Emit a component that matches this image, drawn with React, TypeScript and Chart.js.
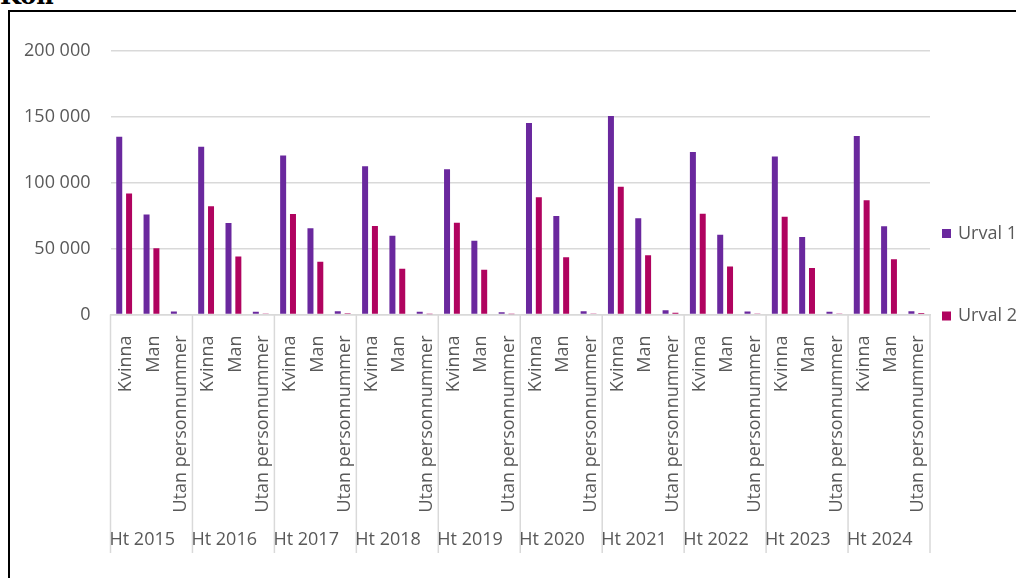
import React, { useEffect, useRef } from 'react';
import { Chart, registerables } from 'chart.js';

Chart.register(...registerables);

const years = ['Ht 2015', 'Ht 2016', 'Ht 2017', 'Ht 2018', 'Ht 2019', 'Ht 2020', 'Ht 2021', 'Ht 2022', 'Ht 2023', 'Ht 2024'];
const subcategories = ['Kvinna', 'Man', 'Utan personnummer'];

// Urval 1 per year: Kvinna, Man, Utan personnummer
const urval1 = [
  135000, 75900, 2300,
  127400, 69400, 2000,
  120700, 65400, 2500,
  112600, 59800, 2000,
  110300, 56000, 1800,
  145300, 74700, 2400,
  150600, 73100, 3200,
  123400, 60500, 2200,
  119900, 58800, 2100,
  135500, 66900, 2500,
];

// Urval 2 per year: Kvinna, Man, Utan personnummer
const urval2 = [
  91800, 50300, 600,
  82200, 44000, 300,
  76200, 40000, 900,
  67100, 34700, 200,
  69600, 33900, 200,
  89000, 43500, 300,
  97000, 45000, 1300,
  76400, 36400, 400,
  74100, 35200, 700,
  86700, 42000, 1100,
];

const seriesNames = ['Urval 1', 'Urval 2'];
const seriesColors = ['#6a289e', '#b0035f'];
const yMax = 200000;
const yStep = 50000;
const chartTitle = 'Kön';

const FONT = '"Open Sans", "Noto Sans", sans-serif';
const TEXT = '#595959';
const GRID = '#d9d9d9';

const labels = years.flatMap(() => subcategories);

const fmt = (v: number) => String(v).replace(/\B(?=(\d{3})+(?!\d))/g, ' ');

const groupAxisPlugin = {
  id: 'groupAxis',
  afterDraw(chart: any) {
    const x = chart.scales.x;
    const ctx = chart.ctx;
    const n = subcategories.length;
    const step = x.getPixelForValue(1) - x.getPixelForValue(0);
    const top = chart.chartArea.bottom;
    const bottom = x.bottom - 25;
    ctx.save();
    ctx.strokeStyle = GRID;
    ctx.lineWidth = 1.5;
    for (let g = 0; g <= years.length; g++) {
      const px = x.getPixelForValue(g * n) - step / 2;
      ctx.beginPath();
      ctx.moveTo(px, top);
      ctx.lineTo(px, bottom);
      ctx.stroke();
    }
    ctx.fillStyle = TEXT;
    ctx.font = `18px ${FONT}`;
    ctx.textAlign = 'left';
    ctx.textBaseline = 'middle';
    years.forEach((yr, g) => {
      const px = x.getPixelForValue(g * n) - step / 2;
      ctx.fillText(yr, px - 1, x.bottom - 38);
    });
    ctx.restore();
  },
};

const legendPlugin = {
  id: 'sideLegend',
  afterDraw(chart: any) {
    const ctx = chart.ctx;
    const area = chart.chartArea;
    const xs = area.right + 12;
    const ys = [area.bottom - 81, area.bottom + 1.5];
    ctx.save();
    ctx.font = `18px ${FONT}`;
    ctx.textBaseline = 'middle';
    ctx.textAlign = 'left';
    chart.data.datasets.forEach((ds: any, i: number) => {
      ctx.fillStyle = ds.backgroundColor;
      ctx.fillRect(xs, ys[i] - 4.5, 9, 9);
      ctx.fillStyle = TEXT;
      ctx.fillText(ds.label, xs + 16, ys[i]);
    });
    ctx.restore();
  },
};

export default function App() {
  const ref = useRef<HTMLCanvasElement | null>(null);

  useEffect(() => {
    if (!ref.current) return;
    const chart = new Chart(ref.current, {
      type: 'bar',
      data: {
        labels,
        datasets: [
          { label: seriesNames[0], data: urval1, backgroundColor: seriesColors[0], barPercentage: 0.61, categoryPercentage: 0.72 },
          { label: seriesNames[1], data: urval2, backgroundColor: seriesColors[1], barPercentage: 0.61, categoryPercentage: 0.72 },
        ],
      },
      options: {
        animation: false,
        responsive: false,
        maintainAspectRatio: false,
        layout: { padding: { left: 0, right: 86, top: 51, bottom: 0 } },
        plugins: { legend: { display: false }, tooltip: { enabled: false } },
        scales: {
          x: {
            type: 'category',
            grid: { display: false },
            border: { display: true, color: GRID, width: 1.5 },
            ticks: {
              autoSkip: false,
              minRotation: 90,
              maxRotation: 90,
              padding: 13,
              labelOffset: 2,
              color: TEXT,
              font: { family: FONT, size: 18 },
            },
            afterFit: (s: any) => { s.height = 263.5; },
          },
          y: {
            min: 0,
            max: yMax,
            ticks: {
              stepSize: yStep,
              padding: 20,
              color: TEXT,
              font: { family: FONT, size: 18 },
              callback: (v: any) => fmt(Number(v)),
            },
            grid: { color: GRID, lineWidth: 1.5, drawTicks: false },
            border: { display: false },
            afterFit: (s: any) => { s.width = 110.5; },
          },
        },
      },
      plugins: [groupAxisPlugin, legendPlugin],
    });
    return () => chart.destroy();
  }, []);

  return (
    <div style={{ position: 'fixed', left: 0, top: 0, width: 1016, height: 578, overflow: 'hidden', background: '#fff' }}>
      <div style={{ position: 'absolute', left: 0, top: -16, fontFamily: '"DejaVu Serif", serif', fontWeight: 'bold', fontSize: 24, lineHeight: 1, color: '#000' }}>
        {chartTitle}
      </div>
      <div style={{ position: 'absolute', left: 8, top: 10, width: 1200, height: 800, border: '2px solid #000' }} />
      <canvas ref={ref} width={1016} height={578} style={{ position: 'absolute', left: 0, top: 0, display: 'block' }} />
    </div>
  );
}
